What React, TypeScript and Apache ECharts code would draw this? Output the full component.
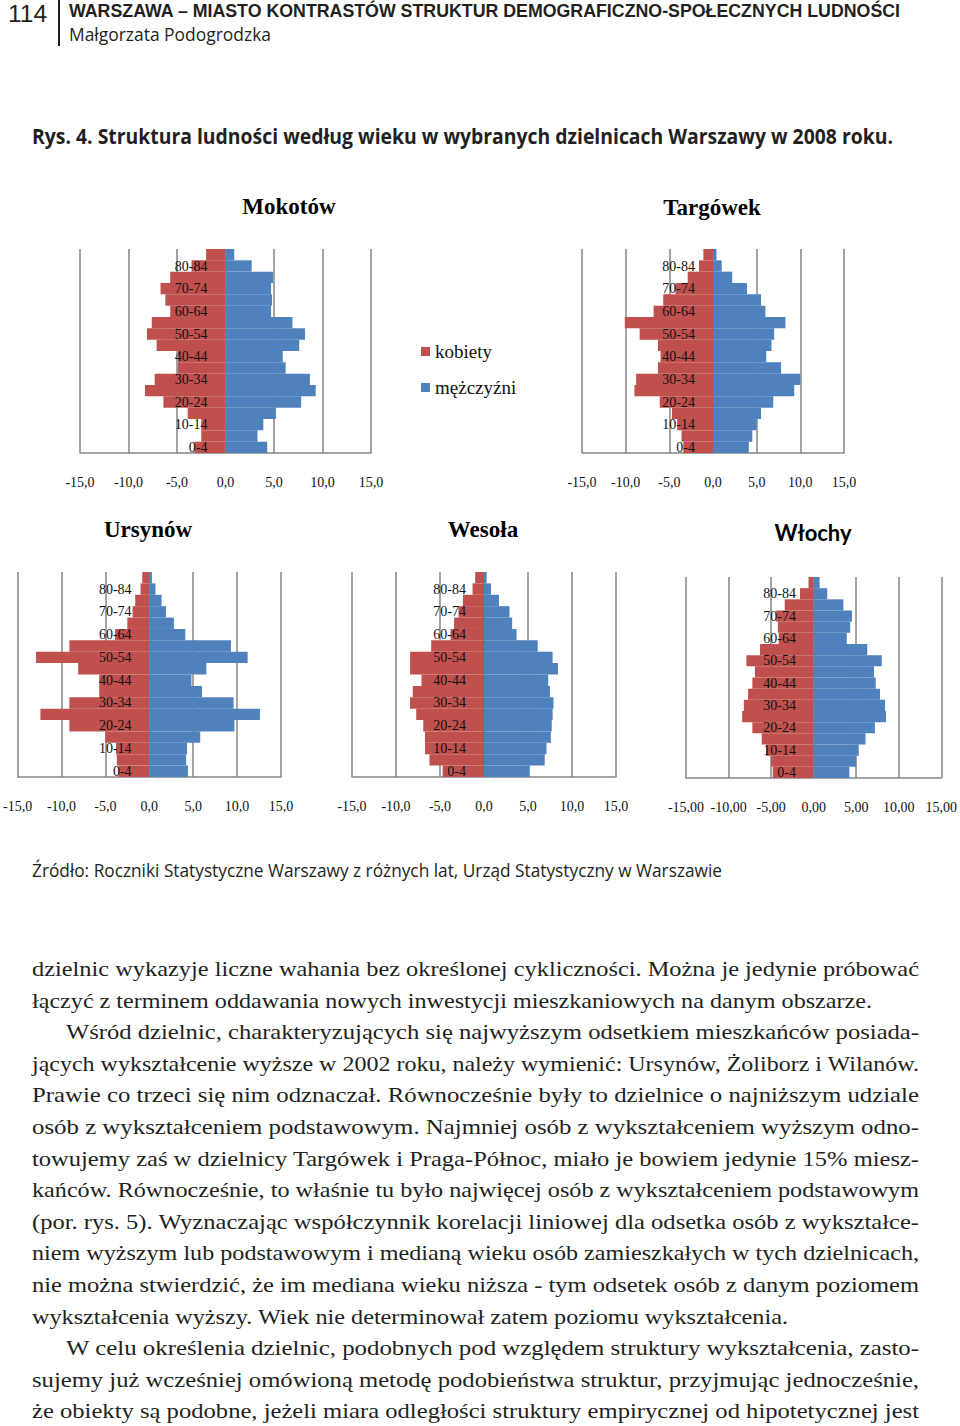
import React, { useEffect, useLayoutEffect, useRef } from "react";
import * as echarts from "echarts";

// ---------- data ----------
const AGE_GROUPS = [
  "0-4", "5-9", "10-14", "15-19", "20-24", "25-29", "30-34", "35-39", "40-44",
  "45-49", "50-54", "55-59", "60-64", "65-69", "70-74", "75-79", "80-84", "85+",
];

const MOKOTOW_KOBIETY = [3.2, 2.5, 2.5, 3.9, 6.4, 8.3, 7.3, 4.9, 4.9, 7.1, 8.1, 7.6, 5.7, 6.2, 6.7, 5.7, 3.5, 2.0];
const MOKOTOW_MEZCZYZNI = [4.3, 3.3, 3.9, 5.2, 7.8, 9.3, 8.7, 6.2, 5.9, 7.6, 8.2, 6.9, 4.7, 4.8, 4.7, 4.9, 2.7, 0.9];

const TARGOWEK_KOBIETY = [3.4, 3.6, 4.1, 4.7, 6.1, 9.0, 8.8, 6.3, 6.0, 6.3, 8.4, 10.1, 6.8, 5.7, 4.3, 2.9, 1.6, 1.1];
const TARGOWEK_MEZCZYZNI = [4.1, 4.5, 5.0, 5.5, 6.9, 9.3, 10.0, 7.8, 6.1, 6.7, 7.0, 8.3, 6.0, 5.5, 3.9, 2.2, 1.0, 0.4];

const URSYNOW_KOBIETY = [3.5, 3.7, 3.8, 5.0, 9.1, 12.4, 9.1, 5.7, 5.7, 8.1, 12.9, 9.1, 3.9, 2.5, 1.9, 1.6, 1.0, 0.8];
const URSYNOW_MEZCZYZNI = [4.4, 4.2, 4.3, 5.8, 9.7, 12.6, 9.6, 6.0, 4.8, 6.5, 11.2, 9.3, 4.1, 2.8, 1.9, 1.4, 0.7, 0.3];

const WESOLA_KOBIETY = [4.7, 6.2, 6.7, 6.7, 6.9, 7.7, 8.4, 8.1, 7.1, 8.4, 8.4, 6.0, 3.8, 3.4, 2.9, 2.4, 1.3, 1.0];
const WESOLA_MEZCZYZNI = [5.2, 6.9, 7.1, 7.6, 7.7, 7.8, 7.9, 7.5, 7.3, 8.4, 7.8, 6.1, 3.7, 3.2, 2.9, 1.7, 0.8, 0.3];

const WLOCHY_KOBIETY = [4.8, 5.0, 5.6, 6.1, 7.2, 8.4, 8.2, 7.7, 7.2, 6.9, 7.9, 6.3, 4.1, 4.2, 4.4, 3.4, 1.6, 0.6];
const WLOCHY_MEZCZYZNI = [4.2, 5.0, 5.3, 6.1, 7.2, 8.5, 8.4, 7.8, 7.3, 7.1, 8.0, 6.3, 3.9, 4.3, 4.5, 3.5, 1.6, 0.7];

const SERIES_NAMES = ["kobiety", "mężczyźni"];
const X_MIN = -15;
const X_MAX = 15;
const X_STEP = 5;

// ---------- texts ----------
const HEADER_NUMBER = "114";
const HEADER_TITLE = "WARSZAWA – MIASTO KONTRASTÓW STRUKTUR DEMOGRAFICZNO-SPOŁECZNYCH LUDNOŚCI";
const HEADER_AUTHOR = "Małgorzata Podogrodzka";
const FIG_TITLE = "Rys. 4. Struktura ludności według wieku w wybranych dzielnicach Warszawy w 2008 roku.";
const SOURCE = "Źródło: Roczniki Statystyczne Warszawy z różnych lat, Urząd Statystyczny w Warszawie";

const BODY_LINES: { t: string; indent?: boolean; end?: number }[] = [
  { t: "dzielnic wykazyje liczne wahania bez określonej cykliczności. Można je jedynie próbować" },
  { t: "łączyć z terminem oddawania nowych inwestycji mieszkaniowych na danym obszarze.", end: 872 },
  { t: "Wśród dzielnic, charakteryzujących się najwyższym odsetkiem mieszkańców posiada-", indent: true },
  { t: "jących wykształcenie wyższe w 2002 roku, należy wymienić: Ursynów, Żoliborz i Wilanów." },
  { t: "Prawie co trzeci się nim odznaczał. Równocześnie były to dzielnice o najniższym udziale" },
  { t: "osób z wykształceniem podstawowym. Najmniej osób z wykształceniem wyższym odno-" },
  { t: "towujemy zaś w dzielnicy Targówek i Praga-Północ, miało je bowiem jedynie 15% miesz-" },
  { t: "kańców. Równocześnie, to właśnie tu było najwięcej osób z wykształceniem podstawowym" },
  { t: "(por. rys. 5). Wyznaczając współczynnik korelacji liniowej dla odsetka osób z wykształce-" },
  { t: "niem wyższym lub podstawowym i medianą wieku osób zamieszkałych w tych dzielnicach," },
  { t: "nie można stwierdzić, że im mediana wieku niższa - tym odsetek osób z danym poziomem" },
  { t: "wykształcenia wyższy. Wiek nie determinował zatem poziomu wykształcenia.", end: 788 },
  { t: "W celu określenia dzielnic, podobnych pod względem struktury wykształcenia, zasto-", indent: true },
  { t: "sujemy już wcześniej omówioną metodę podobieństwa struktur, przyjmując jednocześnie," },
  { t: "że obiekty są podobne, jeżeli miara odległości struktury empirycznej od hipotetycznej jest" },
];

// ---------- layout ----------
const PANELS = [
  { title: "Mokotów", women: MOKOTOW_KOBIETY, men: MOKOTOW_MEZCZYZNI, left: 80, width: 291, top: 249, height: 204, dec: 1, tx: 289, ty: 206, sans: false },
  { title: "Targówek", women: TARGOWEK_KOBIETY, men: TARGOWEK_MEZCZYZNI, left: 582, width: 262, top: 249, height: 204, dec: 1, tx: 712, ty: 207, sans: false },
  { title: "Ursynów", women: URSYNOW_KOBIETY, men: URSYNOW_MEZCZYZNI, left: 17, width: 264, top: 572, height: 205, dec: 1, tx: 148, ty: 529, sans: false },
  { title: "Wesoła", women: WESOLA_KOBIETY, men: WESOLA_MEZCZYZNI, left: 352, width: 264, top: 572, height: 205, dec: 1, tx: 483, ty: 529, sans: false },
  { title: "Włochy", women: WLOCHY_KOBIETY, men: WLOCHY_MEZCZYZNI, left: 686, width: 256, top: 577, height: 201, dec: 2, tx: 813, ty: 532, sans: true },
];

const RED = "#C0504D";
const BLUE = "#4F81BD";
const GRID_GRAY = "#868686";
const SERIF = '"Liberation Serif", "Times New Roman", serif';
const SANS = '"Open Sans", "Noto Sans", sans-serif';
const SANS_TIGHT = '"Liberation Sans", Arial, sans-serif';

function Fit(props: { x: number; y: number; w: number; size: number; weight?: number; text: string; family?: string; lh?: number }) {
  const ref = useRef<HTMLSpanElement>(null);
  useLayoutEffect(() => {
    const el = ref.current;
    if (!el) return;
    el.style.transform = "none";
    const actual = el.getBoundingClientRect().width;
    if (actual > 0) el.style.transform = `scaleX(${props.w / actual})`;
  }, [props.w, props.text]);
  return (
    <span
      ref={ref}
      style={{
        position: "absolute",
        left: props.x,
        top: props.y,
        fontSize: props.size,
        fontWeight: props.weight ?? 400,
        fontFamily: props.family ?? SANS,
        whiteSpace: "nowrap",
        transformOrigin: "0 0",
        lineHeight: props.lh ? `${props.lh}px` : 1.25,
        color: "#231f20",
      }}
    >
      {props.text}
    </span>
  );
}

export default function App() {
  const chartRef = useRef<HTMLDivElement>(null);

  useEffect(() => {
    if (!chartRef.current) return;
    const chart = echarts.init(chartRef.current, undefined, { renderer: "svg" });

    const grid = PANELS.map((p) => ({ left: p.left, top: p.top, width: p.width, height: p.height, containLabel: false }));
    const xAxis = PANELS.map((p, i) => ({
      type: "value",
      gridIndex: i,
      min: X_MIN,
      max: X_MAX,
      interval: X_STEP,
      axisLine: { show: true, onZero: false, lineStyle: { color: GRID_GRAY, width: 1.5 } },
      axisTick: { show: false },
      splitLine: { show: true, lineStyle: { color: GRID_GRAY, width: 1.5 } },
      axisLabel: {
        margin: 22,
        fontFamily: SERIF,
        fontSize: 14,
        color: "#111",
        formatter: (v: number) => v.toFixed(p.dec).replace(".", ","),
      },
    }));
    const yAxis = PANELS.map((p, i) => ({
      type: "category",
      gridIndex: i,
      data: AGE_GROUPS,
      z: 10,
      position: "left",
      offset: -p.width / 2,
      axisLine: { show: false, onZero: false },
      axisTick: { show: false },
      splitLine: { show: false },
      axisLabel: { interval: 1, margin: 18, fontFamily: SERIF, fontSize: 14, color: "#111" },
    }));
    const series: any[] = [];
    PANELS.forEach((p, i) => {
      series.push({
        name: SERIES_NAMES[0],
        type: "bar",
        xAxisIndex: i,
        yAxisIndex: i,
        data: p.women.map((v) => -v),
        itemStyle: { color: RED },
        barGap: "-100%",
        barCategoryGap: "0%",
        silent: true,
      });
      series.push({
        name: SERIES_NAMES[1],
        type: "bar",
        xAxisIndex: i,
        yAxisIndex: i,
        data: p.men,
        itemStyle: { color: BLUE },
        barGap: "-100%",
        barCategoryGap: "0%",
        silent: true,
      });
    });

    const graphic = PANELS.map((p) => ({
      type: "text",
      x: p.tx,
      y: p.ty,
      style: {
        text: p.title,
        fontFamily: p.sans ? '"Lato", "Open Sans", sans-serif' : SERIF,
        fontWeight: "bold",
        fontSize: p.sans ? 22 : 23,
        fill: "#000",
        align: "center",
        verticalAlign: "middle",
      },
    }));

    chart.setOption({
      animation: false,
      grid,
      xAxis,
      yAxis,
      series,
      graphic,
      legend: {
        data: SERIES_NAMES,
        left: 421,
        top: 342,
        padding: 0,
        orient: "vertical",
        icon: "rect",
        itemWidth: 9,
        itemHeight: 9,
        itemGap: 17,
        selectedMode: false,
        textStyle: { fontFamily: SERIF, fontSize: 19, color: "#111" },
      },
    });
    return () => chart.dispose();
  }, []);

  const LINE_H = 31.6;
  const FIRST_CENTER = 972;
  const BODY_SIZE = 21;

  return (
    <div style={{ position: "absolute", left: 0, top: 0, width: 960, height: 1426, overflow: "hidden", background: "#fff" }}>
      <div ref={chartRef} style={{ position: "absolute", left: 0, top: 0, width: 960, height: 900 }} />
      <Fit x={8} y={2} w={39} size={24} text={HEADER_NUMBER} lh={24} family={SANS_TIGHT} />
      <div style={{ position: "absolute", left: 58, top: 0, width: 1.5, height: 46, background: "#231f20" }} />
      <Fit x={69} y={1} w={831} size={18} weight={700} text={HEADER_TITLE} lh={20} family={SANS_TIGHT} />
      <Fit x={69} y={22} w={202} size={18} text={HEADER_AUTHOR} lh={24} />
      <Fit x={32} y={122} w={861} size={21} weight={700} text={FIG_TITLE} lh={28} />
      <Fit x={32} y={858} w={690} size={18} text={SOURCE} lh={24} />
      {BODY_LINES.map((l, i) => {
        const left = l.indent ? 66 : 32;
        const right = l.end ?? 919;
        return (
          <Fit
            key={i}
            x={left}
            y={FIRST_CENTER + i * LINE_H - 18}
            w={right - left}
            size={BODY_SIZE}
            family={SERIF}
            text={l.t}
            lh={LINE_H}
          />
        );
      })}
    </div>
  );
}
